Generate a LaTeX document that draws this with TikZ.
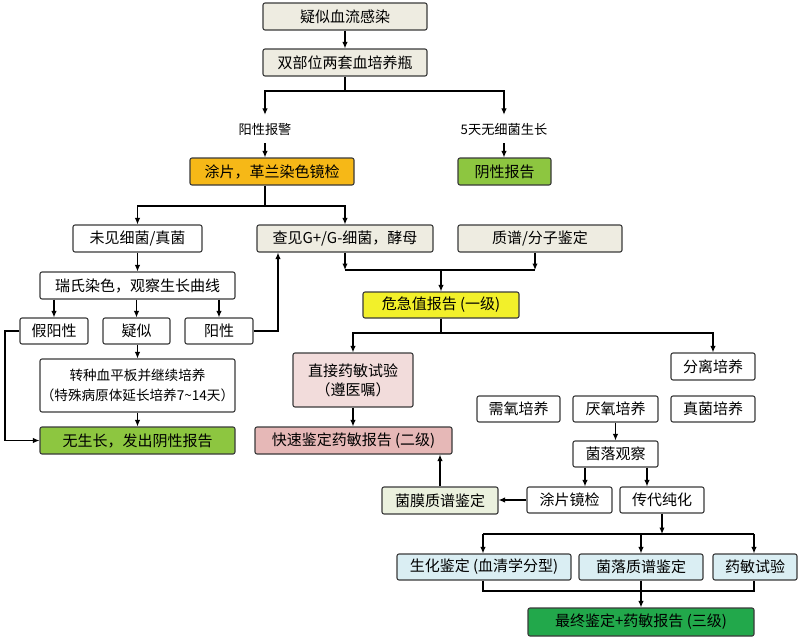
\documentclass[tikz,border=0pt]{standalone}
\usepackage{fontspec}
\setmainfont{Noto Sans CJK SC}
\usetikzlibrary{arrows.meta}
\definecolor{cBorder}{HTML}{3A3A3A}
\definecolor{cBeige}{HTML}{EEECE1}
\definecolor{cOrange}{HTML}{F6B817}
\definecolor{cLGreen}{HTML}{8DC640}
\definecolor{cYellow}{HTML}{F2F02A}
\definecolor{cPinkL}{HTML}{F2DCDB}
\definecolor{cPink}{HTML}{E6B8B7}
\definecolor{cPale}{HTML}{EBF1DE}
\definecolor{cBlue}{HTML}{DAEEF3}
\definecolor{cDGreen}{HTML}{22A84B}
\begin{document}
\begin{tikzpicture}[x=1pt,y=-1pt,
  box/.style={draw=cBorder, line width=1.1pt, rounded corners=2pt, inner sep=0pt,
    font=\fontsize{15}{17}\selectfont, align=center, fill=white},
  lbl/.style={inner sep=0pt, minimum height=28pt, font=\fontsize{13.2}{15}\selectfont},
  arr/.style={-{Latex[length=6.5pt,width=5.5pt]}, line width=1.2pt},
  ln/.style={line width=1.2pt}]
\useasboundingbox (0,0) rectangle (800,640);

% top
\node[box, fill=cBeige, minimum width=164pt, minimum height=27pt] (b1) at (345,16.5) {疑似血流感染};
\node[box, fill=cBeige, minimum width=164pt, minimum height=27pt] (b2) at (345,62.5) {双部位两套血培养瓶};
\node[lbl] (l1) at (265,129) {阳性报警};
\node[lbl] (l2) at (504,129) {5天无细菌生长};
\node[box, fill=cOrange, minimum width=164pt, minimum height=27pt] (b3) at (272,171.5) {涂片，革兰染色镜检};
\node[box, fill=cLGreen, minimum width=93pt, minimum height=27pt] (b4) at (504.5,171.5) {阴性报告};

% second tier
\node[box, minimum width=129pt, minimum height=27pt] (b5) at (137.5,238.5) {未见细菌/真菌};
\node[box, fill=cBeige, minimum width=176pt, minimum height=27pt] (b6) at (345,238.5) {查见G+/G-细菌，酵母};
\node[box, fill=cBeige, minimum width=164pt, minimum height=27pt] (b7) at (540,238.5) {质谱/分子鉴定};
\node[box, fill=cYellow, minimum width=156pt, minimum height=26pt] (b8) at (441,305) {危急值报告 (一级)};

% left column
\node[box, minimum width=195pt, minimum height=27pt] (b11) at (137.5,285.5) {瑞氏染色，观察生长曲线};
\node[box, minimum width=68pt, minimum height=26pt] (b12) at (54,331) {假阳性};
\node[box, minimum width=67pt, minimum height=26pt] (b13) at (136.5,331) {疑似};
\node[box, minimum width=68pt, minimum height=26pt] (b14) at (219,331) {阳性};
\node[box, minimum width=195pt, minimum height=53pt, font=\fontsize{13.6}{20}\selectfont] (b15) at (137.5,385.5) {转种血平板并继续培养\\（特殊病原体延长培养7\textasciitilde14天）};
\node[box, fill=cLGreen, minimum width=195pt, minimum height=27pt] (b16) at (137.5,440.5) {无生长，发出阴性报告};

% middle column
\node[box, fill=cPinkL, minimum width=120pt, minimum height=54pt, font=\fontsize{15}{19}\selectfont] (b9) at (353,380) {直接药敏试验\\（遵医嘱）};
\node[box, fill=cPink, minimum width=197pt, minimum height=27pt] (b10) at (353.5,440.5) {快速鉴定药敏报告 (二级)};

% right column
\node[box, minimum width=84pt, minimum height=27pt] (b17) at (713,366.5) {分离培养};
\node[box, minimum width=83pt, minimum height=26pt] (b18) at (518.5,409) {需氧培养};
\node[box, minimum width=85pt, minimum height=26pt] (b19) at (615.5,409) {厌氧培养};
\node[box, minimum width=84pt, minimum height=26pt] (b20) at (713,409) {真菌培养};
\node[box, minimum width=85pt, minimum height=26pt] (b21) at (615.5,454) {菌落观察};
\node[box, minimum width=85pt, minimum height=26pt] (b22) at (569.5,500) {涂片镜检};
\node[box, minimum width=84pt, minimum height=26pt] (b23) at (662,500) {传代纯化};
\node[box, fill=cPale, minimum width=116pt, minimum height=27pt] (b24) at (440,500.5) {菌膜质谱鉴定};
\node[box, fill=cBlue, minimum width=174pt, minimum height=26pt] (b25) at (484,567) {生化鉴定 (血清学分型)};
\node[box, fill=cBlue, minimum width=124pt, minimum height=26pt] (b26) at (641,567) {菌落质谱鉴定};
\node[box, fill=cBlue, minimum width=84pt, minimum height=26pt] (b27) at (755,567) {药敏试验};
\node[box, fill=cDGreen, minimum width=226pt, minimum height=28pt] (b28) at (641,622) {最终鉴定+药敏报告 (三级)};

% coordinates
\coordinate (j1) at (345,91);
\coordinate (j3) at (265,206);
\coordinate (j4) at (278,331);
\coordinate (j5) at (5,331);
\coordinate (j6) at (441,270);
\coordinate (b7a) at ([xshift=-5pt]b7.south);
\coordinate (j7) at (441,333);
\coordinate (a1) at ([xshift=-30.5pt]b21.south);
\coordinate (a2) at ([xshift=31.5pt]b21.south);
\coordinate (j8) at (662,534);
\coordinate (j8L) at (483,534);
\coordinate (j8R) at (754,534);
\coordinate (j9L) at (483,591);
\coordinate (j9R) at (754,591);

% connectors
\draw[arr] (b1.south) -- (b2.north);
\draw[ln] (b2.south) -- (j1);
\draw[arr] (j1) -| (l1.north);
\draw[arr] (j1) -| (l2.north);
\draw[arr] (l1.south) -- (l1.south |- b3.north);
\draw[arr] (l2.south) -- (l2.south |- b4.north);

\draw[ln] (b3.south -| j3) -- (j3);
\draw[arr] (j3) -| (b5.north);
\draw[arr] (j3) -| (b6.north);

\draw[arr] (b5.south) -- (b11.north);
\draw[arr] (b11.south -| b12.north) -- (b12.north);
\draw[arr] (b11.south -| b13.north) -- (b13.north);
\draw[arr] (b11.south -| b14.north) -- (b14.north);
\draw[arr] (b14.east) -- (j4) -- (j4 |- b6.south);
\draw[arr] (b12.west) -- (j5) |- (b16.west);
\draw[arr] (b15.north |- b13.south) -- (b15.north);
\draw[arr] (b15.south) -- (b16.north);

\draw[arr] (b6.south) -- (b6.south |- j6);
\draw[arr] (b7a) -- (b7a |- j6);
\draw[ln] (b6.south |- j6) -- (b7a |- j6);
\draw[arr] (j6) -- (b8.north);

\draw[ln] (b8.south) -- (j7);
\draw[arr] (j7) -| (b9.north);
\draw[arr] (j7) -| (b17.north);
\draw[arr] (b9.south) -- (b9.south |- b10.north);

\draw[arr] (b19.south) -- (b21.north);
\draw[arr] (a1) -- (a1 |- b22.north);
\draw[arr] (a2) -- (a2 |- b23.north);
\draw[arr] (b22.west) -- (b22.west -| b24.east);
\draw[arr] (b24.north) -- (b24.north |- b10.south);

\draw[arr] (b23.south) -- (j8);
\draw[ln] (j8L) -- (j8R);
\draw[arr] (j8L) -- (j8L |- b25.north);
\draw[arr] (b26.north |- j8) -- (b26.north);
\draw[arr] (j8R) -- (j8R |- b27.north);

\draw[ln] (j9L |- b25.south) -- (j9L) -- (j9R) -- (j9R |- b27.south);
\draw[ln] (b26.south) -- (b26.south |- j9L);
\draw[arr] (b26.south |- j9L) -- (b28.north);
\end{tikzpicture}
\end{document}
